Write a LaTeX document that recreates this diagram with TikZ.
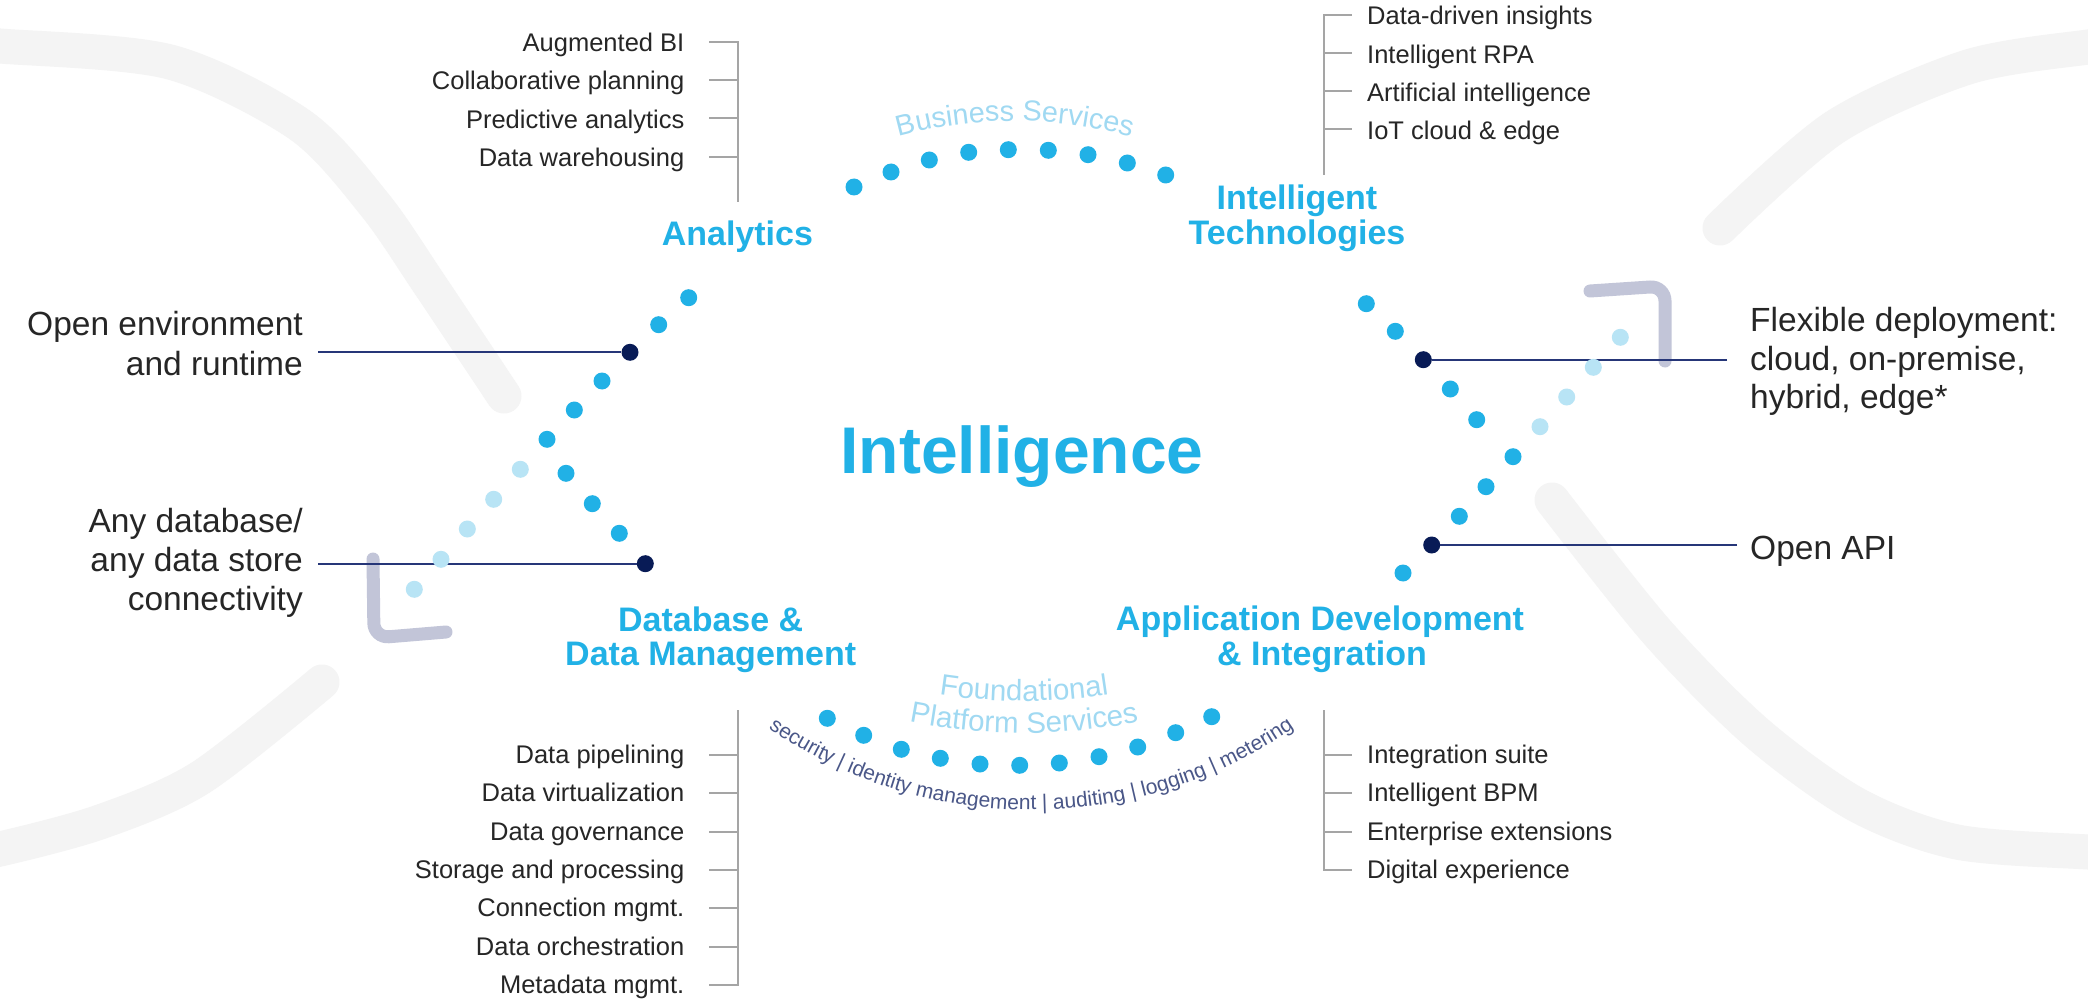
\documentclass[tikz,border=0pt]{standalone}
\usepackage{fontspec}
\setmainfont{Liberation Sans}
\usetikzlibrary{decorations.text}

\definecolor{cyanblue}{RGB}{33,177,230}
\definecolor{paleblue}{RGB}{184,228,245}
\definecolor{paletext}{RGB}{160,217,242}
\definecolor{navy}{RGB}{8,27,86}
\definecolor{navyline}{RGB}{38,54,120}
\definecolor{slate}{RGB}{74,87,136}
\definecolor{lavender}{RGB}{194,197,216}
\definecolor{bandgrey}{RGB}{244,244,244}
\definecolor{tickgrey}{RGB}{165,165,165}
\definecolor{textgrey}{RGB}{38,38,38}

\tikzset{
	listtext/.style={font=\fontsize{25.5}{30}\selectfont, text=textgrey, inner sep=0pt},
	sidetext/.style={font=\fontsize{33.5}{40}\selectfont, text=textgrey, inner sep=0pt},
	headtext/.style={font=\bfseries\fontsize{34}{36}\selectfont, text=cyanblue, inner sep=0pt},
	navydot/.style={circle, fill=navy, inner sep=0pt, minimum size=17pt},
	bluedot/.style={fill=cyanblue},
	palefill/.style={fill=paleblue},
	conline/.style={draw=navyline, line width=2pt},
	tickline/.style={draw=tickgrey, line width=2pt},
	band/.style={draw=bandgrey, line width=35pt, line cap=round},
	bracket/.style={draw=lavender, line width=13pt, line cap=round, rounded corners=15pt}
}

\begin{document}
\begin{tikzpicture}[x=1pt,y=-1pt]
		\useasboundingbox (0,0) rectangle (2088,1000);
		\fill[white] (0,0) rectangle (2088,1000);
		
		\draw[band] plot[smooth] coordinates {(-30,44) (0,46) (170,62) (300,125) (375,205) (430,285) (504,396)};
		\draw[band] plot[smooth] coordinates {(322,682) (200,778) (100,822) (0,849) (-30,852)};
		\draw[band] plot[smooth] coordinates {(1720,228) (1835,127) (1968,67) (2088,47) (2118,45)};
		\draw[band] plot[smooth] coordinates {(1552,500) (1657,632) (1757,733) (1857,805) (1957,842) (2088,852) (2118,853)};
		
		\draw[bracket] (373,559) -- (374,638) -- (446,632);
		\draw[bracket] (1590,291) -- (1665,286) -- (1665,361);
		
		\draw (630,352.3) node[navydot] (envdot) {};
		\draw (645.3,563.7) node[navydot] (dbdot) {};
		\draw (1423.3,359.7) node[navydot] (flexdot) {};
		\draw (1431.7,545) node[navydot] (apidot) {};
		\coordinate (envend) at (318,352.3);
		\coordinate (dbend) at (318,563.7);
		\coordinate (flexend) at (1727,359.7);
		\coordinate (apiend) at (1737,545);
		\draw[conline] (envend) -- (envdot);
		\draw[conline] (dbend) -- (dbdot);
		\draw[conline] (flexend) -- (flexdot);
		\draw[conline] (apiend) -- (apidot);
		
		\fill[bluedot] (854,187) circle[radius=8.5];
		\fill[bluedot] (891,172) circle[radius=8.5];
		\fill[bluedot] (929.3,160) circle[radius=8.5];
		\fill[bluedot] (968.7,152.3) circle[radius=8.5];
		\fill[bluedot] (1008.3,149.7) circle[radius=8.5];
		\fill[bluedot] (1048.3,150.3) circle[radius=8.5];
		\fill[bluedot] (1088,154.7) circle[radius=8.5];
		\fill[bluedot] (1127.3,163) circle[radius=8.5];
		\fill[bluedot] (1165.7,175) circle[radius=8.5];
		
		\fill[bluedot] (827.3,718.3) circle[radius=8.5];
		\fill[bluedot] (863.7,735.3) circle[radius=8.5];
		\fill[bluedot] (901.3,749.3) circle[radius=8.5];
		\fill[bluedot] (940.3,758.3) circle[radius=8.5];
		\fill[bluedot] (980,764) circle[radius=8.5];
		\fill[bluedot] (1019.7,765.3) circle[radius=8.5];
		\fill[bluedot] (1059.3,763) circle[radius=8.5];
		\fill[bluedot] (1099,756.7) circle[radius=8.5];
		\fill[bluedot] (1137.7,747) circle[radius=8.5];
		\fill[bluedot] (1175.7,732.7) circle[radius=8.5];
		\fill[bluedot] (1211.7,716.7) circle[radius=8.5];
		
		\fill[bluedot] (688.7,297.7) circle[radius=8.5];
		\fill[bluedot] (658.7,324.7) circle[radius=8.5];
		\fill[bluedot] (602,381) circle[radius=8.5];
		\fill[bluedot] (574.3,410) circle[radius=8.5];
		\fill[bluedot] (547,439.3) circle[radius=8.5];
		\fill[bluedot] (566,473.3) circle[radius=8.5];
		\fill[bluedot] (592.3,503.7) circle[radius=8.5];
		\fill[bluedot] (619.3,533.3) circle[radius=8.5];
		\fill[palefill] (520.3,469.3) circle[radius=8.5];
		\fill[palefill] (493.7,499.3) circle[radius=8.5];
		\fill[palefill] (467.3,529) circle[radius=8.5];
		\fill[palefill] (441,559.3) circle[radius=8.5];
		\fill[palefill] (414.3,589.3) circle[radius=8.5];
		
		\fill[bluedot] (1366.3,303.7) circle[radius=8.5];
		\fill[bluedot] (1395.3,331.3) circle[radius=8.5];
		\fill[bluedot] (1450.3,389) circle[radius=8.5];
		\fill[bluedot] (1476.7,419.7) circle[radius=8.5];
		\fill[bluedot] (1513,456.7) circle[radius=8.5];
		\fill[bluedot] (1486,486.7) circle[radius=8.5];
		\fill[bluedot] (1459.3,516.3) circle[radius=8.5];
		\fill[bluedot] (1403,573) circle[radius=8.5];
		\fill[palefill] (1540,426.7) circle[radius=8.5];
		\fill[palefill] (1566.7,397) circle[radius=8.5];
		\fill[palefill] (1593.3,367.3) circle[radius=8.5];
		\fill[palefill] (1620.3,337.3) circle[radius=8.5];
		
		\path[decorate, decoration={text along path, text align=center,
			text={|\fontsize{28.8}{29}\selectfont\color{paletext}|Business Services}}]
			(1015,557) ++(245:436) arc[start angle=245, end angle=295, radius=436];
		\path[decorate, decoration={text along path, text align=center,
			text={|\fontsize{29.5}{30}\selectfont\color{paletext}|Foundational}}]
			(1024,136) ++(105:565) arc[start angle=105, end angle=75, radius=565];
		\path[decorate, decoration={text along path, text align=center,
			text={|\fontsize{29.5}{30}\selectfont\color{paletext}|Platform Services}}]
			(1024,136) ++(105:597) arc[start angle=105, end angle=75, radius=597];
		\path[decorate, decoration={text along path, text align=center,
			text={|\fontsize{21}{21}\selectfont\color{slate}|security {\textbar} identity management {\textbar} auditing {\textbar} logging {\textbar} metering}}]
			(1031,348) ++(130:462) arc[start angle=130, end angle=50, radius=462];
		
		\draw (1022,473) node[headtext, anchor=base, font=\bfseries\fontsize{66}{70}\selectfont] (intel) {Intelligence};
		\draw (737.4,245.7) node[headtext, anchor=base] (analytics) {Analytics};
		\draw (1297,210) node[headtext, anchor=base] (techa) {Intelligent};
		\draw (1297,245) node[headtext, anchor=base] (techb) {Technologies};
		\draw (710.7,631.7) node[headtext, anchor=base] (dba) {Database \&};
		\draw (710.7,665) node[headtext, anchor=base] (dbb) {Data Management};
		\draw (1320,630) node[headtext, anchor=base] (appa) {Application Development};
		\draw (1322,665) node[headtext, anchor=base] (appb) {\& Integration};
		
		\draw (303,335) node[sidetext, anchor=base east] (enva) {Open environment};
		\draw (303,375) node[sidetext, anchor=base east] (envb) {and runtime};
		\draw (303,532) node[sidetext, anchor=base east] (anya) {Any database/};
		\draw (303,571) node[sidetext, anchor=base east] (anyb) {any data store};
		\draw (303,610) node[sidetext, anchor=base east] (anyc) {connectivity};
		\draw (1750,331.7) node[sidetext, anchor=base west] (flexa) {Flexible deployment:};
		\draw (1750,370) node[sidetext, anchor=base west] (flexb) {cloud, on-premise,};
		\draw (1750,408) node[sidetext, anchor=base west] (flexc) {hybrid, edge*};
		\draw (1750,559) node[sidetext, anchor=base west] (api) {Open API};
		
		\draw (684.5,51.7) node[listtext, anchor=base east] (augbi) {Augmented BI};
		\draw (684.5,90) node[listtext, anchor=base east] (collab) {Collaborative planning};
		\draw (684.5,128.3) node[listtext, anchor=base east] (predict) {Predictive analytics};
		\draw (684.5,166.7) node[listtext, anchor=base east] (warehouse) {Data warehousing};
		\draw[tickline] (709,41.7) -- (737.7,41.7) -- (737.7,201.7);
		\draw[tickline] (709,80) -- (737.7,80);
		\draw[tickline] (709,118.3) -- (737.7,118.3);
		\draw[tickline] (709,156.7) -- (737.7,156.7);
		
		\draw (1367,25) node[listtext, anchor=base west] (insights) {Data-driven insights};
		\draw (1367,63.3) node[listtext, anchor=base west] (rpa) {Intelligent RPA};
		\draw (1367,101.7) node[listtext, anchor=base west] (ai) {Artificial intelligence};
		\draw (1367,140) node[listtext, anchor=base west] (iot) {IoT cloud \& edge};
		\draw[tickline] (1351.6,15) -- (1323.6,15) -- (1323.6,175);
		\draw[tickline] (1351.6,52.7) -- (1323.6,52.7);
		\draw[tickline] (1351.6,90.7) -- (1323.6,90.7);
		\draw[tickline] (1351.6,129.3) -- (1323.6,129.3);
		
		\draw (684.5,763.3) node[listtext, anchor=base east] (pipe) {Data pipelining};
		\draw (684.5,801.7) node[listtext, anchor=base east] (virt) {Data virtualization};
		\draw (684.5,840) node[listtext, anchor=base east] (gov) {Data governance};
		\draw (684.5,878.3) node[listtext, anchor=base east] (store) {Storage and processing};
		\draw (684.5,916.7) node[listtext, anchor=base east] (conn) {Connection mgmt.};
		\draw (684.5,955) node[listtext, anchor=base east] (orch) {Data orchestration};
		\draw (684.5,993.3) node[listtext, anchor=base east] (meta) {Metadata mgmt.};
		\draw[tickline] (737.7,710) -- (737.7,985) -- (709,985);
		\draw[tickline] (709,755) -- (737.7,755);
		\draw[tickline] (709,793.3) -- (737.7,793.3);
		\draw[tickline] (709,831.7) -- (737.7,831.7);
		\draw[tickline] (709,870) -- (737.7,870);
		\draw[tickline] (709,908.3) -- (737.7,908.3);
		\draw[tickline] (709,946.7) -- (737.7,946.7);
		
		\draw (1367,763.3) node[listtext, anchor=base west] (suite) {Integration suite};
		\draw (1367,801.7) node[listtext, anchor=base west] (bpm) {Intelligent BPM};
		\draw (1367,840) node[listtext, anchor=base west] (ext) {Enterprise extensions};
		\draw (1367,878.3) node[listtext, anchor=base west] (digital) {Digital experience};
		\draw[tickline] (1323.6,710) -- (1323.6,870) -- (1351.6,870);
		\draw[tickline] (1351.6,755) -- (1323.6,755);
		\draw[tickline] (1351.6,793.3) -- (1323.6,793.3);
		\draw[tickline] (1351.6,831.7) -- (1323.6,831.7);
	\end{tikzpicture}
\end{document}
